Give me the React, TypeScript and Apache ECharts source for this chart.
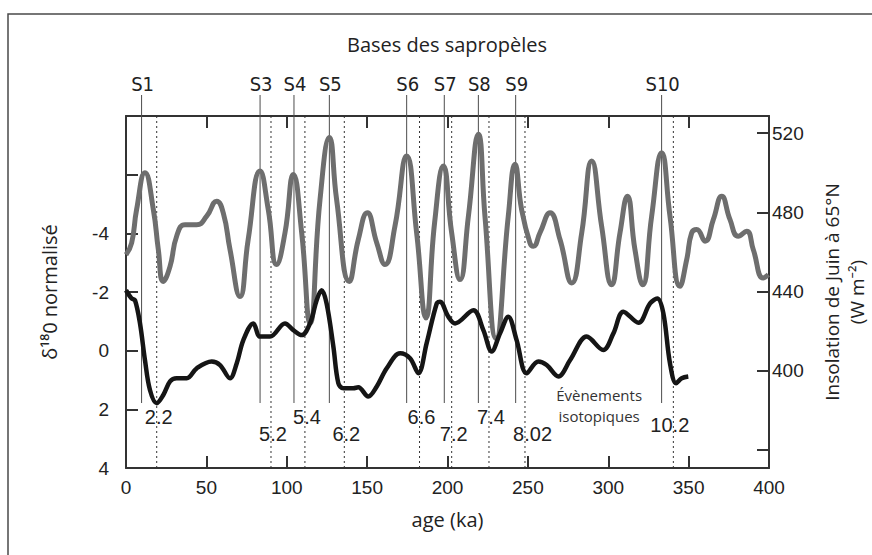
import React, { useEffect, useRef } from 'react';
import * as echarts from 'echarts';

// Insolation de juin à 65°N (W m-2) — grey curve, right axis
const insolationAge = [0, 3.5, 6.6, 11.8, 17, 20.1, 23.2, 27.4, 31.5, 36.7, 44, 50.2, 56.4, 60.5, 64.7, 70.9, 76, 83.4, 88.5, 93.7, 98.9, 104.1, 109.3, 114.5, 120.7, 126.5, 131, 138.9, 144.5, 150.1, 156, 161.1, 167.3, 174.6, 180.8, 186.6, 192, 197.4, 202.6, 207.8, 213, 219.2, 223.3, 230.2, 237.8, 242, 246.1, 251.3, 253.4, 257.5, 263.8, 270, 277.3, 283.5, 289.7, 295.9, 302.1, 307.3, 311.9, 316.6, 321.4, 327, 333.2, 338.4, 344.6, 348.8, 351.9, 355, 360.2, 365.4, 370.6, 375.7, 380.9, 386.1, 390.2, 396.4, 399.6];
const insolationValue = [458.7, 464.6, 481.5, 500.1, 481.5, 461.3, 445.2, 452.8, 468, 473.8, 473.8, 478.1, 485.7, 479.8, 461.3, 437.6, 466.3, 500.9, 481.5, 453.7, 469.7, 499.2, 469.7, 424.2, 486.6, 517.8, 486.6, 445.2, 466.3, 479.8, 464.6, 453.7, 473, 508.5, 469.7, 426.7, 475, 503.4, 469.7, 446.1, 478.1, 519.5, 478.1, 416.5, 478.1, 504.3, 481.5, 464.6, 462.9, 469.7, 479.8, 466.3, 444.4, 469.7, 506, 473, 443.5, 469.7, 488.2, 461.3, 443.5, 478.1, 510.2, 478.1, 442.7, 456.2, 469.7, 471.4, 465.5, 476.5, 488.2, 476.5, 468, 470.5, 461.3, 446.9, 448.6];

// δ18O normalisé — black curve, left axis (inverted)
const d18oAge = [0, 3.5, 5.6, 8.7, 11.8, 14.9, 19.1, 23.2, 27.4, 31.5, 37.8, 44, 53.3, 58.5, 64.7, 68.9, 73, 79.2, 83.4, 89.6, 98.9, 104.1, 109.3, 114.5, 118.6, 121.7, 124.8, 129, 132.1, 135.2, 141.4, 144.5, 150.7, 156, 162.2, 170.5, 176.7, 181.9, 187, 193.3, 195.3, 200.5, 204.7, 216.1, 222.3, 227.5, 232.7, 237.8, 243, 249.2, 256.5, 261.7, 269, 276.3, 286.6, 296.9, 303.2, 309.4, 318.8, 326, 330.5, 334.3, 338.4, 342.2, 345.7, 349.8];
const d18oValue = [-2.06, -1.78, -1.72, -0.93, 0.32, 1.34, 1.79, 1.51, 1.05, 0.94, 0.94, 0.6, 0.37, 0.49, 0.94, 0.43, -0.36, -0.93, -0.48, -0.48, -0.93, -0.7, -0.53, -0.93, -1.72, -2.06, -1.61, -0.14, 1.11, 1.28, 1.28, 1.25, 1.56, 1.22, 0.6, 0.09, 0.26, 0.77, -0.25, -1.61, -1.67, -1.16, -0.93, -1.38, -0.7, 0.03, -0.59, -1.16, -0.36, 0.77, 0.37, 0.49, 0.88, 0.32, -0.48, -0.02, -0.59, -1.33, -0.95, -1.61, -1.78, -1.27, 0.43, 1.11, 0.94, 0.88];

// Bases des sapropèles (ka)
const sapropelLabels = ['S1', 'S3', 'S4', 'S5', 'S6', 'S7', 'S8', 'S9', 'S10'];
const sapropelAges = [9.7, 83.4, 104.5, 126.5, 174.6, 198, 219.2, 242.4, 333.2];

// Évènements isotopiques (ka)
const eventLabels = ['2.2', '5.2', '5.4', '6.2', '6.6', '7.2', '7.4', '8.02', '10.2'];
const eventAges = [19.1, 90.2, 111.3, 135.8, 182.6, 202.6, 225.8, 248.2, 340.5];

// Axis tick labels
const leftTickLabels = [-4, -2, 0, 2, 4];
const rightTickValues = [360, 400, 440, 480, 520];
const rightLabelValues = [400, 440, 480, 520];

const noteText = 'Évènements\nisotopiques';
const noteAnchor = [294.3, 1.86];

const SANS = '"Liberation Sans", Arial, sans-serif';
const NARROW = '"Liberation Sans Narrow", "DejaVu Sans Condensed", "Liberation Sans", sans-serif';
const HUMAN = '"Open Sans", "Noto Sans", "DejaVu Sans", sans-serif';

// event label rows (layout only)
const eventRowOffset = [301, 318, 301, 318, 301, 318, 301, 318, 309];

function dotShift(label: string, fontSize: number): number {
  // shift so that the decimal point sits on the dotted line
  const w = (c: string) => (c === '.' ? 0.278 : 0.556);
  let total = 0;
  let dot = 0;
  for (const c of label) {
    if (c === '.') dot = total + 0.139;
    total += w(c);
  }
  return (total / 2 - dot) * fontSize;
}

export default function App() {
  const ref = useRef<HTMLDivElement>(null);
  useEffect(() => {
    if (!ref.current) return;
    const chart = echarts.init(ref.current, undefined, { renderer: 'svg' });
    const axisColor = '#333';
    const option: any = {
      animation: false,
      backgroundColor: '#fff',
      title: {
        text: 'Bases des sapropèles',
        left: 447,
        top: 34,
        textAlign: 'center',
        padding: 0,
        textStyle: { fontFamily: HUMAN, fontSize: 20, fontWeight: 'normal', color: '#222' },
      },
      grid: { left: 126, right: 103, top: 116, bottom: 87, outerBoundsMode: 'none' },
      xAxis: [
        {
          type: 'value',
          min: 0,
          max: 400,
          interval: 50,
          position: 'bottom',
          name: 'age (ka)',
          nameLocation: 'middle',
          nameGap: 39,
          nameTextStyle: { fontFamily: HUMAN, fontSize: 20, color: '#222', lineHeight: 24 },
          axisLine: { onZero: false, lineStyle: { color: axisColor, width: 2 } },
          axisTick: { inside: true, length: 12, lineStyle: { color: axisColor, width: 2 } },
          axisLabel: { fontFamily: SANS, fontSize: 19, color: '#222', margin: 10 },
          splitLine: { show: false },
        },
        {
          type: 'value',
          min: 0,
          max: 400,
          interval: 50,
          position: 'top',
          axisLine: { onZero: false, lineStyle: { color: axisColor, width: 2 } },
          axisTick: { inside: true, length: 12, lineStyle: { color: axisColor, width: 2 } },
          axisLabel: { show: false },
          splitLine: { show: false },
        },
      ],
      yAxis: [
        {
          type: 'value',
          min: -8,
          max: 4,
          interval: 2,
          inverse: true,
          position: 'left',
          name: 'δ¹⁸0 normalisé',
          nameLocation: 'middle',
          nameGap: 65,
          nameTextStyle: { fontFamily: HUMAN, fontSize: 20, color: '#222', lineHeight: 24 },
          axisLine: { onZero: false, lineStyle: { color: axisColor, width: 2 } },
          axisTick: { inside: true, length: 12, lineStyle: { color: axisColor, width: 2 } },
          axisLabel: {
            fontFamily: SANS,
            fontSize: 19,
            color: '#222',
            margin: 17,
            formatter: (v: number) => (leftTickLabels.includes(v) ? String(v) : ''),
          },
          splitLine: { show: false },
        },
        {
          type: 'value',
          min: 351,
          max: 528.7,
          position: 'right',
          name: 'Insolation de Juin à 65°N\n(W m⁻²)',
          nameLocation: 'middle',
          nameGap: 50,
          nameTextStyle: { fontFamily: HUMAN, fontSize: 19, color: '#222', lineHeight: 25, align: 'center' },
          axisLine: { onZero: false, lineStyle: { color: axisColor, width: 2 } },
          axisTick: {
            inside: true,
            length: 12,
            customValues: rightTickValues,
            lineStyle: { color: axisColor, width: 2 },
          },
          axisLabel: {
            fontFamily: SANS,
            fontSize: 19,
            color: '#222',
            margin: 3,
            customValues: rightLabelValues,
          },
          splitLine: { show: false },
        },
      ],
      graphic: [
        {
          type: 'rect',
          x: 8,
          y: 14,
          shape: { x: 0, y: 0, width: 900, height: 600 },
          style: { fill: 'none', stroke: '#4a4a4a', lineWidth: 1.5 },
          silent: true,
          z: 0,
        },
      ],
      series: [
        {
          type: 'custom',
          name: 'sapropèles',
          xAxisIndex: 0,
          yAxisIndex: 0,
          clip: false,
          z: 1,
          silent: true,
          data: sapropelAges.map((a) => [a, 0]),
          encode: { x: 0, y: 1 },
          renderItem: (params: any, api: any) => {
            const cs = params.coordSys;
            const x = api.coord([api.value(0), 0])[0];
            return {
              type: 'group',
              children: [
                {
                  type: 'line',
                  shape: { x1: x, y1: cs.y - 21, x2: x, y2: cs.y + 287 },
                  style: { stroke: '#4d4d4d', lineWidth: 1 },
                },
                {
                  type: 'text',
                  x: x + 1,
                  y: cs.y - 32,
                  style: {
                    text: sapropelLabels[params.dataIndex],
                    fill: '#222',
                    fontSize: 20,
                    fontFamily: NARROW,
                    align: 'center',
                    verticalAlign: 'middle',
                  },
                },
              ],
            };
          },
        },
        {
          type: 'custom',
          name: 'évènements',
          xAxisIndex: 0,
          yAxisIndex: 0,
          clip: false,
          z: 1,
          silent: true,
          data: eventAges.map((a) => [a, 0]),
          encode: { x: 0, y: 1 },
          renderItem: (params: any, api: any) => {
            const cs = params.coordSys;
            const i = params.dataIndex;
            const x = api.coord([api.value(0), 0])[0];
            const label = eventLabels[i];
            return {
              type: 'group',
              children: [
                {
                  type: 'line',
                  shape: { x1: x, y1: cs.y, x2: x, y2: cs.y + cs.height },
                  style: { stroke: '#333', lineWidth: 1, lineDash: [2, 3] },
                },
                {
                  type: 'text',
                  x: x + 2 + dotShift(label, 20),
                  y: cs.y + eventRowOffset[i],
                  style: {
                    text: label,
                    fill: '#222',
                    fontSize: 20,
                    fontFamily: SANS,
                    align: 'center',
                    verticalAlign: 'middle',
                  },
                },
              ],
            };
          },
        },
        {
          type: 'custom',
          name: 'note',
          xAxisIndex: 0,
          yAxisIndex: 0,
          clip: false,
          z: 5,
          silent: true,
          data: [noteAnchor],
          encode: { x: 0, y: 1 },
          renderItem: (params: any, api: any) => {
            const p = api.coord([api.value(0), api.value(1)]);
            return {
              type: 'text',
              x: p[0],
              y: p[1],
              style: {
                text: noteText,
                fill: '#333',
                fontSize: 15,
                lineHeight: 21,
                fontFamily: HUMAN,
                align: 'center',
                verticalAlign: 'middle',
              },
            };
          },
        },
        {
          type: 'line',
          name: 'Insolation',
          xAxisIndex: 0,
          yAxisIndex: 1,
          data: insolationAge.map((a, i) => [a, insolationValue[i]]),
          showSymbol: false,
          smooth: 0.5,
          z: 3,
          lineStyle: { color: '#6e6e6e', width: 5 },
        },
        {
          type: 'line',
          name: 'δ18O',
          xAxisIndex: 0,
          yAxisIndex: 0,
          data: d18oAge.map((a, i) => [a, d18oValue[i]]),
          showSymbol: false,
          smooth: 0.35,
          z: 4,
          lineStyle: { color: '#151515', width: 4.5 },
        },
      ],
    };
    chart.setOption(option);
    return () => chart.dispose();
  }, []);
  return (
    <div
      ref={ref}
      style={{ position: 'fixed', left: 0, top: 0, width: 872, height: 555, background: '#fff' }}
    />
  );
}
